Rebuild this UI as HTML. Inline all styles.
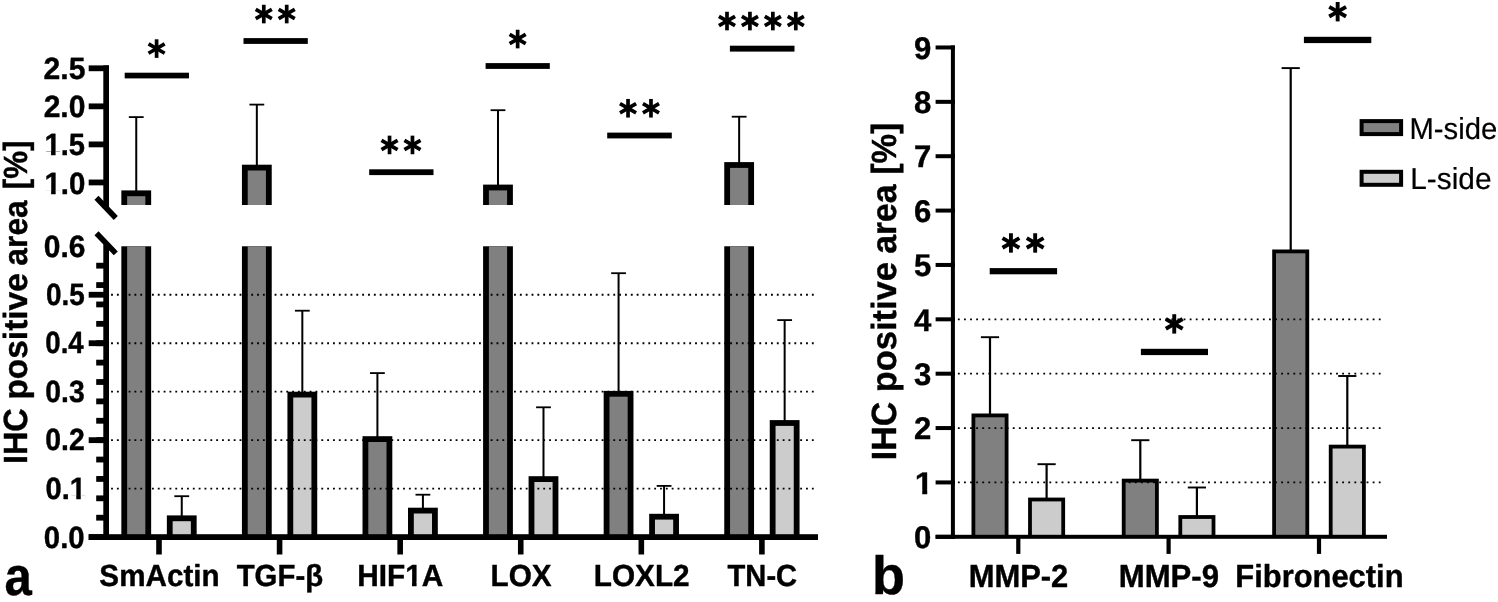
<!DOCTYPE html>
<html lang="en"><head><meta charset="utf-8"><title>IHC positive area</title>
<style>
html,body{margin:0;padding:0;background:#fff;}
body{width:1498px;height:602px;overflow:hidden;position:relative;font-family:"Liberation Sans",sans-serif;}
svg{display:block;text-rendering:geometricPrecision;will-change:transform}
</style></head><body>
<svg width="1498" height="602" viewBox="0 0 1498 602" style="position:absolute;left:0;top:0">
<rect x="0" y="0" width="1498" height="602" fill="#fff"/>
<rect x="135.25" y="117.10" width="2.00" height="74.30" fill="#000"/>
<rect x="128.85" y="116.20" width="14.80" height="1.80" fill="#000"/>
<rect x="180.75" y="496.20" width="2.00" height="20.20" fill="#000"/>
<rect x="174.35" y="495.30" width="14.80" height="1.80" fill="#000"/>
<rect x="121.35" y="190.40" width="29.80" height="14.60" fill="#000"/>
<rect x="127.15" y="196.20" width="18.20" height="8.80" fill="#808080"/>
<rect x="121.35" y="246.28" width="29.80" height="290.82" fill="#000"/>
<rect x="127.15" y="246.28" width="18.20" height="290.82" fill="#808080"/>
<rect x="166.85" y="515.40" width="29.80" height="21.70" fill="#000"/>
<rect x="172.65" y="521.20" width="18.20" height="15.90" fill="#cccccc"/>
<rect x="255.83" y="104.60" width="2.00" height="61.10" fill="#000"/>
<rect x="249.43" y="103.70" width="14.80" height="1.80" fill="#000"/>
<rect x="301.33" y="310.70" width="2.00" height="82.00" fill="#000"/>
<rect x="294.93" y="309.80" width="14.80" height="1.80" fill="#000"/>
<rect x="241.93" y="164.70" width="29.80" height="40.30" fill="#000"/>
<rect x="247.73" y="170.50" width="18.20" height="34.50" fill="#808080"/>
<rect x="241.93" y="246.28" width="29.80" height="290.82" fill="#000"/>
<rect x="247.73" y="246.28" width="18.20" height="290.82" fill="#808080"/>
<rect x="287.43" y="391.70" width="29.80" height="145.40" fill="#000"/>
<rect x="293.23" y="397.50" width="18.20" height="139.60" fill="#cccccc"/>
<rect x="376.41" y="373.10" width="2.00" height="64.10" fill="#000"/>
<rect x="370.01" y="372.20" width="14.80" height="1.80" fill="#000"/>
<rect x="421.91" y="494.70" width="2.00" height="14.00" fill="#000"/>
<rect x="415.51" y="493.80" width="14.80" height="1.80" fill="#000"/>
<rect x="362.51" y="436.20" width="29.80" height="100.90" fill="#000"/>
<rect x="368.31" y="442.00" width="18.20" height="95.10" fill="#808080"/>
<rect x="408.01" y="507.70" width="29.80" height="29.40" fill="#000"/>
<rect x="413.81" y="513.50" width="18.20" height="23.60" fill="#cccccc"/>
<rect x="496.99" y="110.20" width="2.00" height="75.40" fill="#000"/>
<rect x="490.59" y="109.30" width="14.80" height="1.80" fill="#000"/>
<rect x="542.49" y="407.30" width="2.00" height="69.90" fill="#000"/>
<rect x="536.09" y="406.40" width="14.80" height="1.80" fill="#000"/>
<rect x="483.09" y="184.60" width="29.80" height="20.40" fill="#000"/>
<rect x="488.89" y="190.40" width="18.20" height="14.60" fill="#808080"/>
<rect x="483.09" y="246.28" width="29.80" height="290.82" fill="#000"/>
<rect x="488.89" y="246.28" width="18.20" height="290.82" fill="#808080"/>
<rect x="528.59" y="476.20" width="29.80" height="60.90" fill="#000"/>
<rect x="534.39" y="482.00" width="18.20" height="55.10" fill="#cccccc"/>
<rect x="617.57" y="273.20" width="2.00" height="118.70" fill="#000"/>
<rect x="611.17" y="272.30" width="14.80" height="1.80" fill="#000"/>
<rect x="663.07" y="485.90" width="2.00" height="28.90" fill="#000"/>
<rect x="656.67" y="485.00" width="14.80" height="1.80" fill="#000"/>
<rect x="603.67" y="390.90" width="29.80" height="146.20" fill="#000"/>
<rect x="609.47" y="396.70" width="18.20" height="140.40" fill="#808080"/>
<rect x="649.17" y="513.80" width="29.80" height="23.30" fill="#000"/>
<rect x="654.97" y="519.60" width="18.20" height="17.50" fill="#cccccc"/>
<rect x="738.15" y="116.70" width="2.00" height="46.40" fill="#000"/>
<rect x="731.75" y="115.80" width="14.80" height="1.80" fill="#000"/>
<rect x="783.65" y="320.10" width="2.00" height="101.00" fill="#000"/>
<rect x="777.25" y="319.20" width="14.80" height="1.80" fill="#000"/>
<rect x="724.25" y="162.10" width="29.80" height="42.90" fill="#000"/>
<rect x="730.05" y="167.90" width="18.20" height="37.10" fill="#808080"/>
<rect x="724.25" y="246.28" width="29.80" height="290.82" fill="#000"/>
<rect x="730.05" y="246.28" width="18.20" height="290.82" fill="#808080"/>
<rect x="769.75" y="420.10" width="29.80" height="117.00" fill="#000"/>
<rect x="775.55" y="425.90" width="18.20" height="111.20" fill="#cccccc"/>
<line x1="111.08" y1="488.63" x2="815.2" y2="488.63" stroke="#000" stroke-width="1.85" stroke-dasharray="1.85 3.99"/>
<line x1="111.08" y1="440.16" x2="815.2" y2="440.16" stroke="#000" stroke-width="1.85" stroke-dasharray="1.85 3.99"/>
<line x1="111.08" y1="391.69" x2="815.2" y2="391.69" stroke="#000" stroke-width="1.85" stroke-dasharray="1.85 3.99"/>
<line x1="111.08" y1="343.22" x2="815.2" y2="343.22" stroke="#000" stroke-width="1.85" stroke-dasharray="1.85 3.99"/>
<line x1="111.08" y1="294.75" x2="815.2" y2="294.75" stroke="#000" stroke-width="1.85" stroke-dasharray="1.85 3.99"/>
<rect x="103.3" y="65.40" width="5.70" height="141.60" fill="#000"/>
<rect x="88.7" y="65.40" width="20.30" height="5.8" fill="#000"/>
<rect x="88.7" y="103.45" width="20.30" height="5.8" fill="#000"/>
<rect x="88.7" y="141.50" width="20.30" height="5.8" fill="#000"/>
<rect x="88.7" y="179.55" width="20.30" height="5.8" fill="#000"/>
<rect x="103.3" y="244.28" width="5.70" height="295.72" fill="#000"/>
<rect x="88.7" y="534.20" width="20.30" height="5.8" fill="#000"/>
<rect x="88.7" y="437.26" width="20.30" height="5.8" fill="#000"/>
<rect x="88.7" y="340.32" width="20.30" height="5.8" fill="#000"/>
<rect x="88.7" y="291.85" width="20.30" height="5.8" fill="#000"/>
<rect x="96.2" y="514.81" width="12.80" height="5.8" fill="#000"/>
<rect x="96.2" y="495.42" width="12.80" height="5.8" fill="#000"/>
<rect x="96.2" y="476.04" width="12.80" height="5.8" fill="#000"/>
<rect x="96.2" y="456.65" width="12.80" height="5.8" fill="#000"/>
<rect x="96.2" y="437.26" width="12.80" height="5.8" fill="#000"/>
<rect x="96.2" y="417.87" width="12.80" height="5.8" fill="#000"/>
<rect x="96.2" y="398.48" width="12.80" height="5.8" fill="#000"/>
<rect x="96.2" y="379.10" width="12.80" height="5.8" fill="#000"/>
<rect x="96.2" y="359.71" width="12.80" height="5.8" fill="#000"/>
<rect x="96.2" y="340.32" width="12.80" height="5.8" fill="#000"/>
<rect x="96.2" y="320.93" width="12.80" height="5.8" fill="#000"/>
<rect x="96.2" y="301.54" width="12.80" height="5.8" fill="#000"/>
<rect x="96.2" y="282.16" width="12.80" height="5.8" fill="#000"/>
<rect x="96.2" y="262.77" width="12.80" height="5.8" fill="#000"/>
<line x1="96.5" y1="197.8" x2="115.8" y2="218.0" stroke="#000" stroke-width="5.6"/>
<line x1="96.5" y1="233.2" x2="115.8" y2="253.4" stroke="#000" stroke-width="5.6"/>
<rect x="88.7" y="534.20" width="729.30" height="5.8" fill="#000"/>
<rect x="156.20" y="537.10" width="5.6" height="17.40" fill="#000"/>
<rect x="276.78" y="537.10" width="5.6" height="17.40" fill="#000"/>
<rect x="397.36" y="537.10" width="5.6" height="17.40" fill="#000"/>
<rect x="517.94" y="537.10" width="5.6" height="17.40" fill="#000"/>
<rect x="638.52" y="537.10" width="5.6" height="17.40" fill="#000"/>
<rect x="759.10" y="537.10" width="5.6" height="17.40" fill="#000"/>
<text transform="translate(43.56,79.25) scale(1.0282840885840632,1.05)" font-family="Liberation Sans, sans-serif" font-weight="bold" font-size="29.3" text-anchor="start" stroke="#000" stroke-width="0.4" stroke-linejoin="round">2.5</text>
<text transform="translate(43.66,117.30) scale(1.025615019093357,1.05)" font-family="Liberation Sans, sans-serif" font-weight="bold" font-size="29.3" text-anchor="start" stroke="#000" stroke-width="0.4" stroke-linejoin="round">2.0</text>
<text transform="translate(44.51,155.45) scale(0.99439242707193,1.05)" font-family="Liberation Sans, sans-serif" font-weight="bold" font-size="29.3" text-anchor="start" stroke="#000" stroke-width="0.4" stroke-linejoin="round">1.5</text>
<rect x="45.04" y="151.71" width="6.02" height="5.34" fill="#fff"/>
<rect x="55.56" y="151.71" width="5.15" height="5.34" fill="#fff"/>
<text transform="translate(44.49,193.90) scale(1.004628262196193,1.05)" font-family="Liberation Sans, sans-serif" font-weight="bold" font-size="29.3" text-anchor="start" stroke="#000" stroke-width="0.4" stroke-linejoin="round">1.0</text>
<rect x="45.04" y="190.16" width="6.07" height="5.34" fill="#fff"/>
<rect x="55.65" y="190.16" width="5.19" height="5.34" fill="#fff"/>
<text transform="translate(43.71,256.90) scale(1.023018525374133,1.05)" font-family="Liberation Sans, sans-serif" font-weight="bold" font-size="29.3" text-anchor="start" stroke="#000" stroke-width="0.4" stroke-linejoin="round">0.6</text>
<text transform="translate(46.00,304.70) scale(0.9520937035819169,1.05)" font-family="Liberation Sans, sans-serif" font-weight="bold" font-size="29.3" text-anchor="start" stroke="#000" stroke-width="0.4" stroke-linejoin="round">0.5</text>
<text transform="translate(45.31,353.10) scale(0.9438080313175545,1.05)" font-family="Liberation Sans, sans-serif" font-weight="bold" font-size="29.3" text-anchor="start" stroke="#000" stroke-width="0.4" stroke-linejoin="round">0.4</text>
<text transform="translate(45.28,401.50) scale(0.9658956635512119,1.05)" font-family="Liberation Sans, sans-serif" font-weight="bold" font-size="29.3" text-anchor="start" stroke="#000" stroke-width="0.4" stroke-linejoin="round">0.3</text>
<text transform="translate(45.28,449.90) scale(0.9687746372130637,1.05)" font-family="Liberation Sans, sans-serif" font-weight="bold" font-size="29.3" text-anchor="start" stroke="#000" stroke-width="0.4" stroke-linejoin="round">0.2</text>
<text transform="translate(45.45,499.00) scale(0.993096819043968,1.05)" font-family="Liberation Sans, sans-serif" font-weight="bold" font-size="29.3" text-anchor="start" stroke="#000" stroke-width="0.4" stroke-linejoin="round">0.1</text>
<rect x="70.25" y="495.26" width="6.01" height="5.34" fill="#fff"/>
<rect x="80.75" y="495.26" width="5.14" height="5.34" fill="#fff"/>
<text transform="translate(43.84,548.20) scale(1.0007711630819034,1.05)" font-family="Liberation Sans, sans-serif" font-weight="bold" font-size="29.3" text-anchor="start" stroke="#000" stroke-width="0.4" stroke-linejoin="round">0.0</text>
<text transform="translate(99.35,585.50) scale(1.005323298666984,1.035)" font-family="Liberation Sans, sans-serif" font-weight="bold" font-size="29.5" text-anchor="start" stroke="#000" stroke-width="0.4" stroke-linejoin="round">SmActin</text>
<text transform="translate(236.67,585.50) scale(0.9954438621792586,1.035)" font-family="Liberation Sans, sans-serif" font-weight="bold" font-size="29.5" text-anchor="start" stroke="#000" stroke-width="0.4" stroke-linejoin="round">TGF-β</text>
<text transform="translate(357.31,585.50) scale(1.0099540010774524,1.035)" font-family="Liberation Sans, sans-serif" font-weight="bold" font-size="29.5" text-anchor="start" stroke="#000" stroke-width="0.4" stroke-linejoin="round">HIF1A</text>
<rect x="405.88" y="581.78" width="6.13" height="5.32" fill="#fff"/>
<rect x="416.59" y="581.78" width="5.25" height="5.32" fill="#fff"/>
<text transform="translate(490.51,585.50) scale(1.0066868691090716,1.035)" font-family="Liberation Sans, sans-serif" font-weight="bold" font-size="29.5" text-anchor="start" stroke="#000" stroke-width="0.4" stroke-linejoin="round">LOX</text>
<text transform="translate(593.81,585.50) scale(1.0074654894429693,1.035)" font-family="Liberation Sans, sans-serif" font-weight="bold" font-size="29.5" text-anchor="start" stroke="#000" stroke-width="0.4" stroke-linejoin="round">LOXL2</text>
<text transform="translate(727.57,585.50) scale(0.9868210828860033,1.035)" font-family="Liberation Sans, sans-serif" font-weight="bold" font-size="29.5" text-anchor="start" stroke="#000" stroke-width="0.4" stroke-linejoin="round">TN-C</text>
<text transform="translate(4.40,595.00) scale(0.9,1.0)" font-family="Liberation Sans, sans-serif" font-weight="bold" font-size="54.5" text-anchor="start" stroke="#000" stroke-width="0.4" stroke-linejoin="round">a</text>
<text transform="translate(27.20,464.07) rotate(-90) scale(0.9979640994877939,1.03)" font-family="Liberation Sans, sans-serif" font-weight="bold" font-size="32.5" text-anchor="start" stroke="#000" stroke-width="0.4" stroke-linejoin="round">IHC</text>
<text transform="translate(27.20,399.60) rotate(-90) scale(1.0287884666435236,1.03)" font-family="Liberation Sans, sans-serif" font-weight="bold" font-size="32.5" text-anchor="start" stroke="#000" stroke-width="0.4" stroke-linejoin="round">positive</text>
<text transform="translate(27.20,265.63) rotate(-90) scale(0.976912370087316,1.03)" font-family="Liberation Sans, sans-serif" font-weight="bold" font-size="32.5" text-anchor="start" stroke="#000" stroke-width="0.4" stroke-linejoin="round">area</text>
<text transform="translate(27.20,189.26) rotate(-90) scale(0.963890147077964,1.03)" font-family="Liberation Sans, sans-serif" font-weight="bold" font-size="32.5" text-anchor="start" stroke="#000" stroke-width="0.4" stroke-linejoin="round">[%]</text>
<rect x="124.7" y="72.7" width="64.30" height="5.70" fill="#000"/>
<line x1="156.60" y1="39.30" x2="156.60" y2="57.90" stroke="#000" stroke-width="3.7"/>
<line x1="148.55" y1="43.95" x2="164.65" y2="53.25" stroke="#000" stroke-width="3.7"/>
<line x1="148.55" y1="53.25" x2="164.65" y2="43.95" stroke="#000" stroke-width="3.7"/>
<rect x="243.5" y="38.1" width="64.30" height="5.80" fill="#000"/>
<line x1="263.79" y1="4.75" x2="263.79" y2="23.35" stroke="#000" stroke-width="3.7"/>
<line x1="255.73" y1="9.40" x2="271.84" y2="18.70" stroke="#000" stroke-width="3.7"/>
<line x1="255.73" y1="18.70" x2="271.84" y2="9.40" stroke="#000" stroke-width="3.7"/>
<line x1="286.71" y1="4.75" x2="286.71" y2="23.35" stroke="#000" stroke-width="3.7"/>
<line x1="278.66" y1="9.40" x2="294.77" y2="18.70" stroke="#000" stroke-width="3.7"/>
<line x1="278.66" y1="18.70" x2="294.77" y2="9.40" stroke="#000" stroke-width="3.7"/>
<rect x="369.2" y="169.3" width="64.30" height="5.80" fill="#000"/>
<line x1="389.54" y1="135.65" x2="389.54" y2="154.25" stroke="#000" stroke-width="3.7"/>
<line x1="381.48" y1="140.30" x2="397.59" y2="149.60" stroke="#000" stroke-width="3.7"/>
<line x1="381.48" y1="149.60" x2="397.59" y2="140.30" stroke="#000" stroke-width="3.7"/>
<line x1="412.46" y1="135.65" x2="412.46" y2="154.25" stroke="#000" stroke-width="3.7"/>
<line x1="404.41" y1="140.30" x2="420.52" y2="149.60" stroke="#000" stroke-width="3.7"/>
<line x1="404.41" y1="149.60" x2="420.52" y2="140.30" stroke="#000" stroke-width="3.7"/>
<rect x="485.6" y="63.1" width="64.20" height="5.80" fill="#000"/>
<line x1="517.65" y1="29.75" x2="517.65" y2="48.35" stroke="#000" stroke-width="3.7"/>
<line x1="509.60" y1="34.40" x2="525.70" y2="43.70" stroke="#000" stroke-width="3.7"/>
<line x1="509.60" y1="43.70" x2="525.70" y2="34.40" stroke="#000" stroke-width="3.7"/>
<rect x="607.2" y="132.6" width="64.60" height="5.80" fill="#000"/>
<line x1="628.03" y1="98.95" x2="628.03" y2="117.55" stroke="#000" stroke-width="3.7"/>
<line x1="619.98" y1="103.60" x2="636.09" y2="112.90" stroke="#000" stroke-width="3.7"/>
<line x1="619.98" y1="112.90" x2="636.09" y2="103.60" stroke="#000" stroke-width="3.7"/>
<line x1="650.97" y1="98.95" x2="650.97" y2="117.55" stroke="#000" stroke-width="3.7"/>
<line x1="642.91" y1="103.60" x2="659.02" y2="112.90" stroke="#000" stroke-width="3.7"/>
<line x1="642.91" y1="112.90" x2="659.02" y2="103.60" stroke="#000" stroke-width="3.7"/>
<rect x="729.9" y="45.7" width="64.60" height="5.90" fill="#000"/>
<line x1="727.00" y1="11.75" x2="727.00" y2="30.35" stroke="#000" stroke-width="3.7"/>
<line x1="718.95" y1="16.40" x2="735.06" y2="25.70" stroke="#000" stroke-width="3.7"/>
<line x1="718.95" y1="25.70" x2="735.06" y2="16.40" stroke="#000" stroke-width="3.7"/>
<line x1="749.93" y1="11.75" x2="749.93" y2="30.35" stroke="#000" stroke-width="3.7"/>
<line x1="741.88" y1="16.40" x2="757.99" y2="25.70" stroke="#000" stroke-width="3.7"/>
<line x1="741.88" y1="25.70" x2="757.99" y2="16.40" stroke="#000" stroke-width="3.7"/>
<line x1="772.87" y1="11.75" x2="772.87" y2="30.35" stroke="#000" stroke-width="3.7"/>
<line x1="764.81" y1="16.40" x2="780.92" y2="25.70" stroke="#000" stroke-width="3.7"/>
<line x1="764.81" y1="25.70" x2="780.92" y2="16.40" stroke="#000" stroke-width="3.7"/>
<line x1="795.79" y1="11.75" x2="795.79" y2="30.35" stroke="#000" stroke-width="3.7"/>
<line x1="787.74" y1="16.40" x2="803.85" y2="25.70" stroke="#000" stroke-width="3.7"/>
<line x1="787.74" y1="25.70" x2="803.85" y2="16.40" stroke="#000" stroke-width="3.7"/>
<rect x="988.90" y="337.20" width="2.20" height="77.30" fill="#000"/>
<rect x="980.90" y="336.25" width="18.20" height="1.90" fill="#000"/>
<rect x="1045.50" y="464.20" width="2.20" height="34.40" fill="#000"/>
<rect x="1037.50" y="463.25" width="18.20" height="1.90" fill="#000"/>
<rect x="971.50" y="413.50" width="37.00" height="123.30" fill="#000"/>
<rect x="975.30" y="417.30" width="29.40" height="119.50" fill="#808080"/>
<rect x="1028.10" y="497.60" width="37.00" height="39.20" fill="#000"/>
<rect x="1031.90" y="501.40" width="29.40" height="35.40" fill="#cccccc"/>
<rect x="1139.20" y="440.20" width="2.20" height="39.50" fill="#000"/>
<rect x="1131.20" y="439.25" width="18.20" height="1.90" fill="#000"/>
<rect x="1195.80" y="487.50" width="2.20" height="28.60" fill="#000"/>
<rect x="1187.80" y="486.55" width="18.20" height="1.90" fill="#000"/>
<rect x="1121.80" y="478.70" width="37.00" height="58.10" fill="#000"/>
<rect x="1125.60" y="482.50" width="29.40" height="54.30" fill="#808080"/>
<rect x="1178.40" y="515.10" width="37.00" height="21.70" fill="#000"/>
<rect x="1182.20" y="518.90" width="29.40" height="17.90" fill="#cccccc"/>
<rect x="1289.60" y="68.10" width="2.20" height="182.40" fill="#000"/>
<rect x="1281.60" y="67.15" width="18.20" height="1.90" fill="#000"/>
<rect x="1346.20" y="376.00" width="2.20" height="69.70" fill="#000"/>
<rect x="1338.20" y="375.05" width="18.20" height="1.90" fill="#000"/>
<rect x="1272.20" y="249.50" width="37.00" height="287.30" fill="#000"/>
<rect x="1276.00" y="253.30" width="29.40" height="283.50" fill="#808080"/>
<rect x="1328.80" y="444.70" width="37.00" height="92.10" fill="#000"/>
<rect x="1332.60" y="448.50" width="29.40" height="88.30" fill="#cccccc"/>
<line x1="957.88" y1="482.43" x2="1381.8" y2="482.43" stroke="#000" stroke-width="1.85" stroke-dasharray="1.85 4.25"/>
<line x1="957.88" y1="428.06" x2="1381.8" y2="428.06" stroke="#000" stroke-width="1.85" stroke-dasharray="1.85 4.25"/>
<line x1="957.88" y1="373.69" x2="1381.8" y2="373.69" stroke="#000" stroke-width="1.85" stroke-dasharray="1.85 4.25"/>
<line x1="957.88" y1="319.32" x2="1381.8" y2="319.32" stroke="#000" stroke-width="1.85" stroke-dasharray="1.85 4.25"/>
<rect x="950.9" y="45.47" width="4.00" height="493.33" fill="#000"/>
<rect x="935.6" y="534.80" width="19.30" height="4.0" fill="#000"/>
<rect x="935.6" y="480.43" width="19.30" height="4.0" fill="#000"/>
<rect x="935.6" y="426.06" width="19.30" height="4.0" fill="#000"/>
<rect x="935.6" y="371.69" width="19.30" height="4.0" fill="#000"/>
<rect x="935.6" y="317.32" width="19.30" height="4.0" fill="#000"/>
<rect x="935.6" y="262.95" width="19.30" height="4.0" fill="#000"/>
<rect x="935.6" y="208.58" width="19.30" height="4.0" fill="#000"/>
<rect x="935.6" y="154.21" width="19.30" height="4.0" fill="#000"/>
<rect x="935.6" y="99.84" width="19.30" height="4.0" fill="#000"/>
<rect x="935.6" y="45.47" width="19.30" height="4.0" fill="#000"/>
<rect x="935.6" y="534.80" width="451.40" height="4.0" fill="#000"/>
<rect x="1016.20" y="536.80" width="4.2" height="17.10" fill="#000"/>
<rect x="1166.50" y="536.80" width="4.2" height="17.10" fill="#000"/>
<rect x="1316.90" y="536.80" width="4.2" height="17.10" fill="#000"/>
<text transform="translate(931.30,548.00) scale(1.0,1.01)" font-family="Liberation Sans, sans-serif" font-weight="bold" font-size="31.1" text-anchor="end" stroke="#000" stroke-width="0.4" stroke-linejoin="round">0</text>
<text transform="translate(914.78,493.63) scale(1.06,1.01)" font-family="Liberation Sans, sans-serif" font-weight="bold" font-size="31.1" text-anchor="start" stroke="#000" stroke-width="0.4" stroke-linejoin="round">1</text>
<rect x="915.56" y="489.82" width="6.67" height="5.41" fill="#fff"/>
<rect x="927.25" y="489.82" width="5.75" height="5.41" fill="#fff"/>
<text transform="translate(931.30,439.26) scale(1.0,1.01)" font-family="Liberation Sans, sans-serif" font-weight="bold" font-size="31.1" text-anchor="end" stroke="#000" stroke-width="0.4" stroke-linejoin="round">2</text>
<text transform="translate(931.30,384.89) scale(1.0,1.01)" font-family="Liberation Sans, sans-serif" font-weight="bold" font-size="31.1" text-anchor="end" stroke="#000" stroke-width="0.4" stroke-linejoin="round">3</text>
<text transform="translate(931.30,330.52) scale(1.0,1.01)" font-family="Liberation Sans, sans-serif" font-weight="bold" font-size="31.1" text-anchor="end" stroke="#000" stroke-width="0.4" stroke-linejoin="round">4</text>
<text transform="translate(931.30,276.15) scale(1.0,1.01)" font-family="Liberation Sans, sans-serif" font-weight="bold" font-size="31.1" text-anchor="end" stroke="#000" stroke-width="0.4" stroke-linejoin="round">5</text>
<text transform="translate(931.30,221.78) scale(1.0,1.01)" font-family="Liberation Sans, sans-serif" font-weight="bold" font-size="31.1" text-anchor="end" stroke="#000" stroke-width="0.4" stroke-linejoin="round">6</text>
<text transform="translate(931.30,167.41) scale(1.0,1.01)" font-family="Liberation Sans, sans-serif" font-weight="bold" font-size="31.1" text-anchor="end" stroke="#000" stroke-width="0.4" stroke-linejoin="round">7</text>
<text transform="translate(931.30,113.04) scale(1.0,1.01)" font-family="Liberation Sans, sans-serif" font-weight="bold" font-size="31.1" text-anchor="end" stroke="#000" stroke-width="0.4" stroke-linejoin="round">8</text>
<text transform="translate(931.30,58.67) scale(1.0,1.01)" font-family="Liberation Sans, sans-serif" font-weight="bold" font-size="31.1" text-anchor="end" stroke="#000" stroke-width="0.4" stroke-linejoin="round">9</text>
<text transform="translate(968.63,586.60) scale(1.0046981231934196,1.035)" font-family="Liberation Sans, sans-serif" font-weight="bold" font-size="30.8" text-anchor="start" stroke="#000" stroke-width="0.4" stroke-linejoin="round">MMP-2</text>
<text transform="translate(1118.72,586.60) scale(1.0110428250108792,1.035)" font-family="Liberation Sans, sans-serif" font-weight="bold" font-size="30.8" text-anchor="start" stroke="#000" stroke-width="0.4" stroke-linejoin="round">MMP-9</text>
<text transform="translate(1235.33,586.60) scale(1.0029610294170268,1.035)" font-family="Liberation Sans, sans-serif" font-weight="bold" font-size="30.8" text-anchor="start" stroke="#000" stroke-width="0.4" stroke-linejoin="round">Fibronectin</text>
<text transform="translate(872.00,594.00) scale(1.0,1.0)" font-family="Liberation Sans, sans-serif" font-weight="bold" font-size="54" text-anchor="start" stroke="#000" stroke-width="0.4" stroke-linejoin="round">b</text>
<text transform="translate(896.00,460.17) rotate(-90) scale(1.0020509172501775,1.03)" font-family="Liberation Sans, sans-serif" font-weight="bold" font-size="33.9" text-anchor="start" stroke="#000" stroke-width="0.4" stroke-linejoin="round">IHC</text>
<text transform="translate(896.00,392.27) rotate(-90) scale(1.015970863256678,1.03)" font-family="Liberation Sans, sans-serif" font-weight="bold" font-size="33.9" text-anchor="start" stroke="#000" stroke-width="0.4" stroke-linejoin="round">positive</text>
<text transform="translate(896.00,253.79) rotate(-90) scale(0.9931099317364346,1.03)" font-family="Liberation Sans, sans-serif" font-weight="bold" font-size="33.9" text-anchor="start" stroke="#000" stroke-width="0.4" stroke-linejoin="round">area</text>
<text transform="translate(896.00,174.56) rotate(-90) scale(0.9792831509016764,1.03)" font-family="Liberation Sans, sans-serif" font-weight="bold" font-size="33.9" text-anchor="start" stroke="#000" stroke-width="0.4" stroke-linejoin="round">[%]</text>
<rect x="989.7" y="268.1" width="67.40" height="6.20" fill="#000"/>
<line x1="1010.93" y1="233.26" x2="1010.93" y2="252.66" stroke="#000" stroke-width="3.9"/>
<line x1="1002.53" y1="238.11" x2="1019.33" y2="247.81" stroke="#000" stroke-width="3.9"/>
<line x1="1002.53" y1="247.81" x2="1019.33" y2="238.11" stroke="#000" stroke-width="3.9"/>
<line x1="1035.17" y1="233.26" x2="1035.17" y2="252.66" stroke="#000" stroke-width="3.9"/>
<line x1="1026.77" y1="238.11" x2="1043.57" y2="247.81" stroke="#000" stroke-width="3.9"/>
<line x1="1026.77" y1="247.81" x2="1043.57" y2="238.11" stroke="#000" stroke-width="3.9"/>
<rect x="1140.9" y="348.8" width="67.10" height="6.30" fill="#000"/>
<line x1="1174.25" y1="314.20" x2="1174.25" y2="333.60" stroke="#000" stroke-width="3.9"/>
<line x1="1165.85" y1="319.05" x2="1182.65" y2="328.75" stroke="#000" stroke-width="3.9"/>
<line x1="1165.85" y1="328.75" x2="1182.65" y2="319.05" stroke="#000" stroke-width="3.9"/>
<rect x="1303.9" y="36.8" width="67.40" height="6.30" fill="#000"/>
<line x1="1337.65" y1="2.00" x2="1337.65" y2="21.40" stroke="#000" stroke-width="3.9"/>
<line x1="1329.25" y1="6.85" x2="1346.05" y2="16.55" stroke="#000" stroke-width="3.9"/>
<line x1="1329.25" y1="16.55" x2="1346.05" y2="6.85" stroke="#000" stroke-width="3.9"/>
<rect x="1359.6" y="119.1" width="43.5" height="17" fill="#000"/>
<rect x="1363.6" y="123.1" width="35.5" height="9" fill="#808080"/>
<text transform="translate(1409.50,138.50) scale(0.9953099826406964,1.03)" font-family="Liberation Sans, sans-serif" font-size="29.4" text-anchor="start" stroke="#000" stroke-width="0.2" stroke-linejoin="round">M-side</text>
<rect x="1359.6" y="169.8" width="43.5" height="17" fill="#000"/>
<rect x="1363.6" y="173.8" width="35.5" height="9" fill="#cccccc"/>
<text transform="translate(1410.25,189.20) scale(1.0149726369209116,1.03)" font-family="Liberation Sans, sans-serif" font-size="29.4" text-anchor="start" stroke="#000" stroke-width="0.2" stroke-linejoin="round">L-side</text>
</svg>
</body></html>
